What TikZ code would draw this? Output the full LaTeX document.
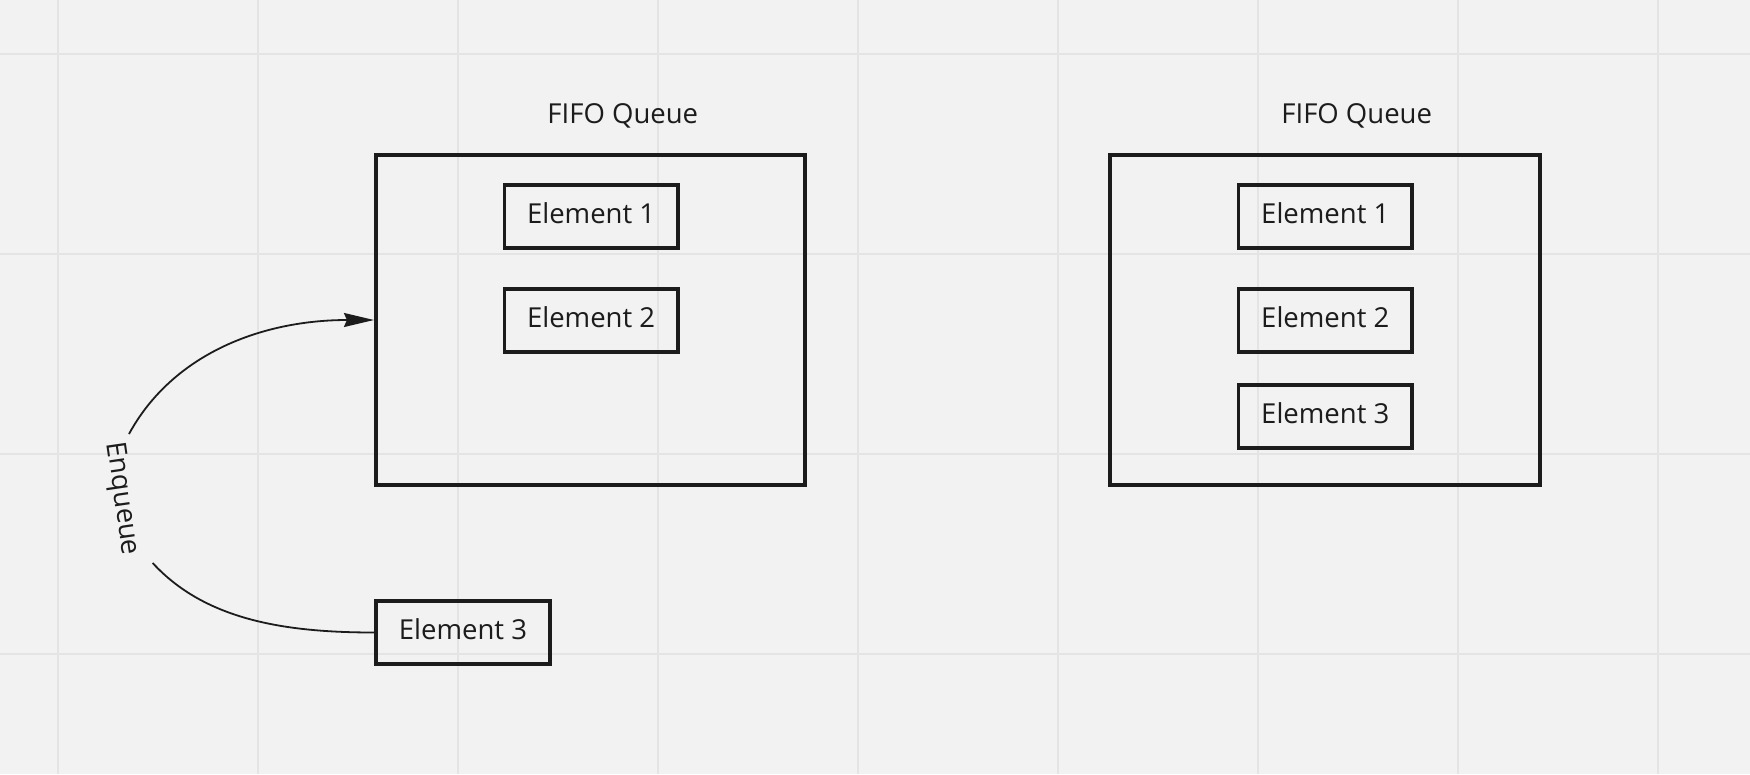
\documentclass[tikz,border=0pt]{standalone}
\usepackage{fontspec}
\setmainfont{Open Sans}
\usetikzlibrary{arrows.meta}
\definecolor{bgc}{HTML}{F2F2F2}
\definecolor{gridc}{HTML}{E4E4E4}
\definecolor{ink}{HTML}{1C1C1C}
\begin{document}
\begin{tikzpicture}[x=1pt,y=-1pt,
  outerbox/.style={draw=ink, line width=4pt, minimum width=429.4pt, minimum height=330.3pt, inner sep=0pt},
  elembox/.style={draw=ink, line width=3.6pt, minimum width=173.6pt, minimum height=63.3pt, inner sep=0pt, text height=20pt, text depth=6.6pt, font=\fontsize{27.5}{33}\selectfont, text=ink},
  titletext/.style={anchor=base, font=\fontsize{27.5}{33}\selectfont, text=ink, inner sep=0pt},
  gridline/.style={draw=gridc, line width=2pt},
  conn/.style={draw=ink, line width=1.8pt}]
\useasboundingbox (0,0) rectangle (1750,774);
\fill[bgc] (0,0) rectangle (1750,774);
\foreach \x in {58,258,...,1658} \draw[gridline] (\x,0) -- (\x,774);
\foreach \y in {54,254,454,654} \draw[gridline] (0,\y) -- (1750,\y);

% left queue
\node[outerbox] (ql) at (590.65,320) {};
\node[titletext] (tl) at (622.8,123.3) {FIFO Queue};
\node[elembox] (l1) at (591.1,216.6) {Element 1};
\node[elembox] (l2) at (591.1,320.4) {Element 2};
\node[elembox] (e3) at (463,632.5) {Element 3};

% right queue
\node[outerbox] (qr) at (1325,320) {};
\node[titletext] (tr) at (1356.7,123.3) {FIFO Queue};
\node[elembox] (r1) at (1325.3,216.4) {Element 1};
\node[elembox] (r2) at (1325.3,320.6) {Element 2};
\node[elembox] (r3) at (1325.3,416.6) {Element 3};

% enqueue connector
\coordinate (lowbreak) at (152.7,563);
\coordinate (upbreak) at (129,434);
\draw[conn] (e3.west) .. controls (285,632.5) and (205,620) .. (lowbreak);
\draw[conn,-{Stealth[length=30pt,width=14pt,inset=3pt]}] (upbreak) .. controls (172,355) and (260,320) .. (ql.west);
\node[anchor=base, rotate=-81.7, font=\fontsize{27.5}{33}\selectfont, text=ink, inner sep=0pt] (enq) at (115,500) {Enqueue};
\end{tikzpicture}
\end{document}
